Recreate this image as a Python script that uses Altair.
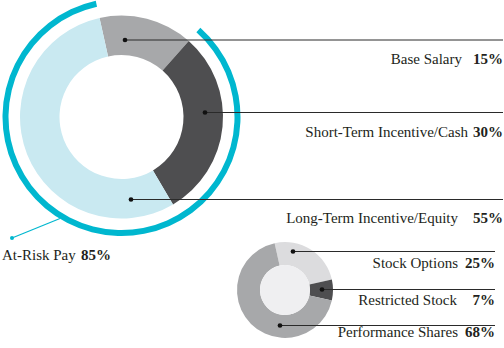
import math
import altair as alt
import pandas as pd

# ---------------- data ----------------
pay_labels = ["Base Salary", "Short-Term Incentive/Cash", "Long-Term Incentive/Equity"]
pay_values = [15, 30, 55]
equity_labels = ["Stock Options", "Restricted Stock", "Performance Shares"]
equity_values = [25, 7, 68]
at_risk_label = "At-Risk Pay"
at_risk_value = 85

# ---------------- styles / layout ----------------
pay_colors = ["#a7a8aa", "#4e4e50", "#c9e9f1"]
equity_colors = ["#dcdcde", "#4e4e50", "#a7a8aa"]
CYAN = "#00b7cf"
INK = "#231f20"
FONT = "Liberation Serif"

W, H = 504, 348
BIG_C = (121.5, 117)
SMALL_C = (285, 290)
START = math.radians(-12.5)

# leader dot positions, line end x, label right edges & baselines
big_dots = [(125, 40), (205, 112.5), (131, 199.5)]
big_line_end = 503
big_name_right = [462, 468, 458]
big_pct_right = 503
big_baselines = [64, 137, 223]

small_dots = [(293, 251.5), (322, 289.5), (280, 325.5)]
small_line_end = 495
small_name_right = [458, 457, 458]
small_pct_right = 495
small_baselines = [268, 305, 337]

theta_scale = alt.Scale(domain=[0, 100], range=[START, START + 2 * math.pi])

# ---------------- donuts ----------------
big_df = pd.DataFrame({"label": pay_labels, "value": pay_values, "k": range(len(pay_labels))})
big = alt.Chart(big_df).mark_arc(innerRadius=62, outerRadius=101.5).encode(
    theta=alt.Theta("value:Q", stack=True, scale=theta_scale),
    color=alt.Color("label:N", scale=alt.Scale(domain=pay_labels, range=pay_colors), legend=None),
    order=alt.Order("k:Q"),
    x=alt.value(BIG_C[0]),
    y=alt.value(BIG_C[1]),
)

risk_df = pd.DataFrame({"label": [at_risk_label], "start": [pay_values[0]],
                        "end": [pay_values[0] + at_risk_value]})
risk_arc = alt.Chart(risk_df).mark_arc(innerRadius=113, outerRadius=119, color=CYAN).encode(
    theta=alt.Theta("start:Q", scale=theta_scale, stack=None),
    theta2="end:Q",
    x=alt.value(BIG_C[0]),
    y=alt.value(BIG_C[1]),
)

small_df = pd.DataFrame({"label": equity_labels, "value": equity_values, "k": range(len(equity_labels))})
small = alt.Chart(small_df).mark_arc(innerRadius=25, outerRadius=48).encode(
    theta=alt.Theta("value:Q", stack=True, scale=theta_scale),
    color=alt.Color("label:N", scale=alt.Scale(domain=equity_labels, range=equity_colors), legend=None),
    order=alt.Order("k:Q"),
    x=alt.value(SMALL_C[0]),
    y=alt.value(SMALL_C[1]),
)

hole = alt.Chart(pd.DataFrame({"a": [0]})).mark_arc(outerRadius=25, color="#efeff1").encode(
    theta=alt.value(0), theta2=alt.value(2 * math.pi),
    x=alt.value(SMALL_C[0]), y=alt.value(SMALL_C[1]),
)

# ---------------- leaders & labels ----------------
lead_df = pd.DataFrame({
    "x": [d[0] for d in big_dots] + [d[0] for d in small_dots],
    "y": [d[1] for d in big_dots] + [d[1] for d in small_dots],
    "x2": [big_line_end] * 3 + [small_line_end] * 3,
})
rules = alt.Chart(lead_df).mark_rule(color="#2a2a2a", strokeWidth=1).encode(
    x=alt.X("x:Q", scale=None), x2="x2:Q", y=alt.Y("y:Q", scale=None)
)
dots = alt.Chart(lead_df).mark_circle(size=22, color="#111111", opacity=1).encode(
    x=alt.X("x:Q", scale=None), y=alt.Y("y:Q", scale=None)
)

lab_df = pd.DataFrame({
    "name": pay_labels + equity_labels,
    "pct": [f"{v}%" for v in pay_values + equity_values],
    "nx": big_name_right + small_name_right,
    "px": [big_pct_right] * 3 + [small_pct_right] * 3,
    "y": big_baselines + small_baselines,
})
names = alt.Chart(lab_df).mark_text(align="right", baseline="alphabetic", font=FONT,
                                    fontSize=15, color=INK).encode(
    x=alt.X("nx:Q", scale=None), y=alt.Y("y:Q", scale=None), text="name:N"
)
pcts = alt.Chart(lab_df).mark_text(align="right", baseline="alphabetic", font=FONT,
                                   fontSize=15, fontWeight="bold", color=INK).encode(
    x=alt.X("px:Q", scale=None), y=alt.Y("y:Q", scale=None), text="pct:N"
)

# at-risk leader
risk_lead = alt.Chart(pd.DataFrame({"x": [12], "y": [238], "x2": [60], "y2": [218.5]})).mark_rule(
    color=CYAN, strokeWidth=1.2).encode(
    x=alt.X("x:Q", scale=None), y=alt.Y("y:Q", scale=None), x2="x2:Q", y2="y2:Q")
risk_dot = alt.Chart(pd.DataFrame({"x": [12], "y": [238]})).mark_circle(
    size=16, color=CYAN, opacity=1).encode(
    x=alt.X("x:Q", scale=None), y=alt.Y("y:Q", scale=None))
risk_name = alt.Chart(pd.DataFrame({"t": [at_risk_label], "x": [2], "y": [260]})).mark_text(
    align="left", baseline="alphabetic", font=FONT, fontSize=15, color=INK).encode(
    x=alt.X("x:Q", scale=None), y=alt.Y("y:Q", scale=None), text="t:N")
risk_pct = alt.Chart(pd.DataFrame({"t": [f"{at_risk_value}%"], "x": [81], "y": [260]})).mark_text(
    align="left", baseline="alphabetic", font=FONT, fontSize=15, fontWeight="bold", color=INK).encode(
    x=alt.X("x:Q", scale=None), y=alt.Y("y:Q", scale=None), text="t:N")

chart = alt.layer(
    risk_arc, big, small, hole, rules, dots, names, pcts, risk_lead, risk_dot, risk_name, risk_pct
).resolve_scale(color="independent").properties(
    width=W, height=H, autosize="none", padding=0, background="white"
).configure_view(stroke=None)

chart.save("out.html", embed_options={"renderer": "svg", "actions": False})
